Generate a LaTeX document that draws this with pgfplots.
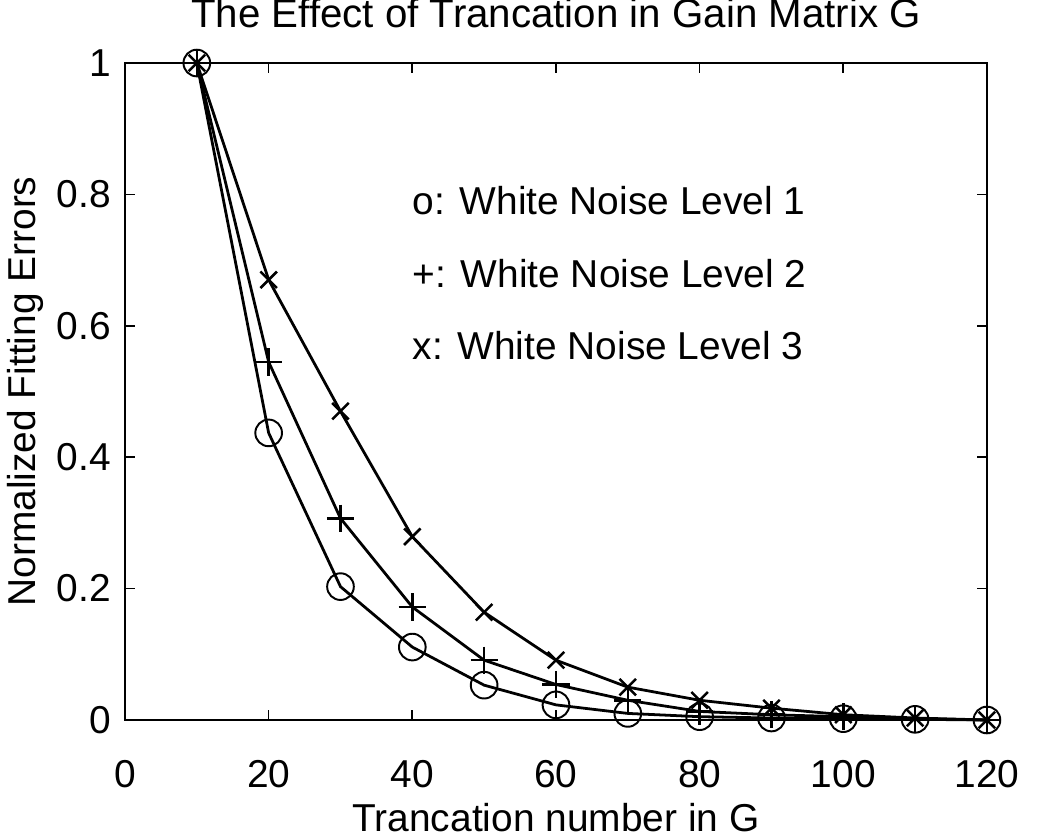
\documentclass[border=0pt]{standalone}
\usepackage{pgfplots}
\pgfplotsset{compat=1.18}
\usepackage{fontspec}
\setmainfont{Liberation Sans}
\begin{document}
\begin{tikzpicture}
\path[use as bounding box] (-45pt,-42.1pt) rectangle (333pt,259.2pt);
\begin{axis}[
  at={(0pt,0pt)}, anchor=south west,
  scale only axis,
  width=310.3pt, height=236.5pt,
  xmin=0, xmax=120, ymin=0, ymax=1,
  xtick={0,20,...,120},
  ytick={0,0.2,0.4,0.6,0.8,1},
  yticklabels={0,0.2,0.4,0.6,0.8,1},
  tick align=inside,
  major tick length=3.6pt,
  tick style={line width=0.6pt, black},
  axis line style={line width=0.8pt},
  /pgf/number format/assume math mode=true,
  tick label style={font=\fontsize{14}{16}\selectfont},
  xticklabel style={yshift=-11pt},
  yticklabel style={xshift=-1.5pt},
  xlabel={Trancation number in G},
  xlabel style={font=\fontsize{14}{16}\selectfont, at={(axis description cs:0.5,0)}, anchor=base, yshift=-40.3pt},
  ylabel={Normalized Fitting Errors},
  ylabel style={font=\fontsize{14}{16}\selectfont, at={(axis description cs:-0.1044,0.5)}, anchor=base, rotate=0},
  every axis plot/.append style={black, line width=1pt},
  clip=false,
]
\addplot[mark=o, mark size=4.8pt, mark options={line width=0.7pt}] coordinates {
(10,1)(20,0.437)(30,0.203)(40,0.111)(50,0.053)(60,0.023)(70,0.010)(80,0.005)(90,0.003)(100,0.002)(110,0.001)(120,0)};
\addplot[mark=+, mark size=4.9pt, mark options={line width=0.9pt}] coordinates {
(10,1)(20,0.545)(30,0.307)(40,0.172)(50,0.091)(60,0.054)(70,0.030)(80,0.013)(90,0.008)(100,0.005)(110,0.002)(120,0)};
\addplot[mark=x, mark size=4.2pt, mark options={line width=0.9pt}] coordinates {
(10,1)(20,0.670)(30,0.470)(40,0.279)(50,0.164)(60,0.091)(70,0.050)(80,0.030)(90,0.018)(100,0.008)(110,0.003)(120,0)};
\node[anchor=base west, font=\fontsize{14}{16}\selectfont, inner sep=0pt] at (axis cs:40,0.769) {o: White Noise Level 1};
\node[anchor=base west, font=\fontsize{14}{16}\selectfont, inner sep=0pt] at (axis cs:40,0.659) {+: White Noise Level 2};
\node[anchor=base west, font=\fontsize{14}{16}\selectfont, inner sep=0pt] at (axis cs:40,0.549) {x: White Noise Level 3};
\node[anchor=base, font=\fontsize{14.5}{16}\selectfont, inner sep=0pt, yshift=12.7pt] at (rel axis cs:0.5,1) {The Effect of Trancation in Gain Matrix G};
\end{axis}
\end{tikzpicture}
\end{document}
